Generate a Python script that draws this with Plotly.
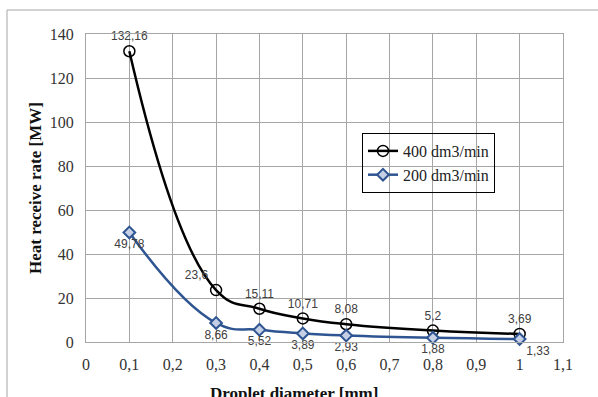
import plotly.graph_objects as go

diam = [0.1, 0.3, 0.4, 0.5, 0.6, 0.8, 1.0]
rate_400 = [132.16, 23.6, 15.11, 10.71, 8.08, 5.2, 3.69]
rate_200 = [49.78, 8.66, 5.52, 3.89, 2.93, 1.88, 1.33]
labels_400 = ["132,16", "23,6", "15,11", "10,71", "8,08", "5,2", "3,69"]
labels_200 = ["49,78", "8,66", "5,52", "3,89", "2,93", "1,88", "1,33"]
x_ticks = [0, 0.1, 0.2, 0.3, 0.4, 0.5, 0.6, 0.7, 0.8, 0.9, 1.0, 1.1]
x_ticktext = ["0", "0,1", "0,2", "0,3", "0,4", "0,5", "0,6", "0,7", "0,8", "0,9", "1", "1,1"]
y_ticks = [0, 20, 40, 60, 80, 100, 120, 140]

pos_400 = ["top center", "top left", "top center", "top center", "top center", "top center", "top center"]
pos_200 = ["bottom center", "bottom center", "bottom center", "bottom center", "bottom center", "bottom center", "bottom right"]

lab_font = dict(family="Liberation Sans", size=12, color="#404040")
serif = "Liberation Serif"
blue = "#2E5591"

fig = go.Figure()
fig.add_trace(go.Scatter(
    x=diam, y=rate_400, name="400 dm3/min", mode="lines+markers+text",
    line=dict(color="black", width=2.5, shape="spline", smoothing=1.3),
    marker=dict(symbol="circle-open", size=11, color="black", line=dict(width=1.5)),
    text=labels_400, textposition=pos_400, textfont=lab_font, cliponaxis=False,
))
fig.add_trace(go.Scatter(
    x=diam, y=rate_200, name="200 dm3/min", mode="lines+markers+text",
    line=dict(color=blue, width=2.5, shape="spline", smoothing=1.3),
    marker=dict(symbol="diamond", size=9, color="#C5D0E6", line=dict(width=2, color=blue)),
    text=labels_200, textposition=pos_200, textfont=lab_font, cliponaxis=False,
))

fig.update_layout(
    width=598, height=397,
    margin=dict(l=86, r=35, t=34, b=55),
    paper_bgcolor="white", plot_bgcolor="white",
    showlegend=True,
    legend=dict(x=0.5786, y=0.6786, xanchor="left", yanchor="top",
                bgcolor="rgba(0,0,0,0)", bordercolor="black", borderwidth=1,
                font=dict(family=serif, size=16, color="#222"),
                itemwidth=30, tracegroupgap=0),
    xaxis=dict(range=[0, 1.1], tickvals=x_ticks, ticktext=x_ticktext,
               showgrid=True, gridcolor="#A6A6A6", gridwidth=1,
               showline=True, linecolor="#A6A6A6", mirror=True, zeroline=False,
               ticks="", ticklabelstandoff=8,
               tickfont=dict(family=serif, size=16, color="#333")),
    yaxis=dict(range=[0, 140], tickvals=y_ticks,
               showgrid=True, gridcolor="#A6A6A6", gridwidth=1,
               showline=True, linecolor="#A6A6A6", mirror=True, zeroline=False,
               ticks="", ticklabelstandoff=8,
               tickfont=dict(family=serif, size=16, color="#333")),
    shapes=[dict(type="rect", xref="paper", yref="paper",
                 x0=(7 - 86) / 477, x1=1.2, y0=-0.3, y1=(342 - 10) / 308,
                 line=dict(color="#A6A6A6", width=1), layer="below")],
    annotations=[
        dict(text="<b>Heat receive rate [MW]</b>", xref="paper", yref="paper",
             x=(35 - 86) / 477, y=(342 - 188) / 308, textangle=-90, showarrow=False,
             font=dict(family=serif, size=17, color="#111"), xanchor="center", yanchor="middle"),
        dict(text="<b>Droplet diameter [mm]</b>", xref="paper", yref="paper",
             x=(294 - 86) / 477, y=(342 - 393) / 308, showarrow=False,
             font=dict(family=serif, size=17, color="#111"), xanchor="center", yanchor="middle"),
    ],
)

fig.write_html("out.html", config={"displayModeBar": False},
               post_script="document.body.style.margin='0';document.body.style.padding='0';")
